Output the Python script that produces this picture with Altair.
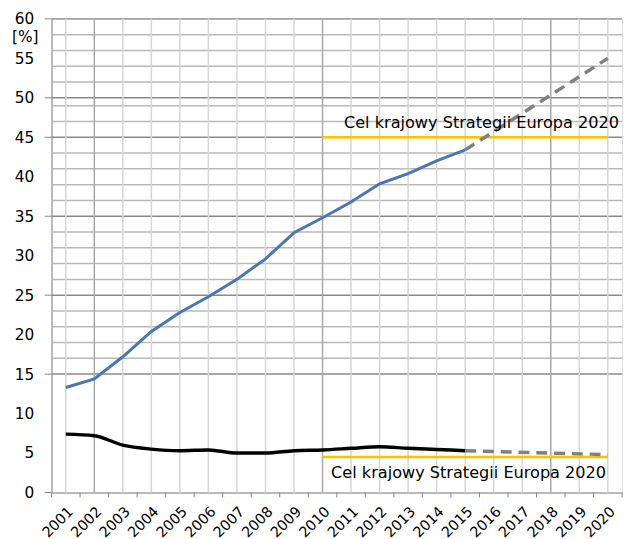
import altair as alt
import pandas as pd

# ---- data ----
years = list(range(2001, 2016))
blue_values = [13.3, 14.4, 17.2, 20.4, 22.8, 24.8, 27.0, 29.6, 32.9, 34.8, 36.8, 39.1, 40.4, 42.0, 43.4]
black_values = [7.4, 7.2, 6.0, 5.5, 5.3, 5.4, 5.0, 5.0, 5.3, 5.4, 5.6, 5.8, 5.6, 5.45, 5.3]
proj_years = [2015, 2020]
blue_proj = [43.4, 55.0]
black_proj = [5.3, 4.8]
target_years = [2010, 2020]
target_high = 45
target_low = 4.5
target_label = "Cel krajowy Strategii Europa 2020"
label_high_pos = (2010.75, 46.8)
label_low_pos = (2010.3, 2.45)
y_label_values = list(range(0, 61, 5))
y_tick_values = [0, 15, 25, 35, 45, 50, 60]
h_major = [60, 50, 45, 35, 25, 15]
h_minor = [58, 56, 54, 52, 49, 47, 43, 41, 39, 37, 33, 31, 29, 27, 23, 21, 19, 17]
v_major = [2002, 2010, 2018]
v_minor = [y for y in range(2001, 2021) if y not in v_major]
x_label_values = list(range(2001, 2021))
x_tick_values = [y + 0.5 for y in range(2000, 2021)]

W, H = 577, 479
FONT = "DejaVu Sans"

xs = alt.Scale(domain=[2000.5, 2020.5], nice=False, zero=False)
ys = alt.Scale(domain=[0, 60], nice=False)

df_blue = pd.DataFrame({"year": years, "v": blue_values})
df_black = pd.DataFrame({"year": years, "v": black_values})
df_bp = pd.DataFrame({"year": proj_years, "v": blue_proj})
df_kp = pd.DataFrame({"year": proj_years, "v": black_proj})
df_t = pd.DataFrame({"year": target_years * 2, "v": [target_high] * 2 + [target_low] * 2,
                     "g": ["h", "h", "l", "l"]})
df_lab = pd.DataFrame({"year": [label_high_pos[0], label_low_pos[0]],
                       "v": [label_high_pos[1], label_low_pos[1]],
                       "t": [target_label, target_label]})

xax = alt.Axis(values=x_label_values, format="d", labelAngle=-45, ticks=False, grid=False,
               domainColor="#868686", labelFontSize=14.5, labelFont=FONT, labelColor="#000",
               labelPadding=12, labelOverlap=False, labelAlign="right", labelBaseline="top",
               labelBound=False, title=None)
yax = alt.Axis(values=y_label_values, ticks=False, grid=False, domainColor="#868686",
               labelFontSize=15.5, labelFont=FONT, labelColor="#000", labelPadding=18,
               labelOverlap=False,
               title="[%]", titleAngle=0, titleX=-27, titleY=18, titleAlign="center",
               titleBaseline="middle", titleFontSize=15.5, titleFont=FONT,
               titleFontWeight="normal", titleColor="#000")


def X():
    return alt.X("year:Q", scale=xs, axis=xax)


def Y():
    return alt.Y("v:Q", scale=ys, axis=yax)


hmin = alt.Chart(pd.DataFrame({"v": h_minor})).mark_rule(color="#b9b9b9", strokeWidth=1.5).encode(
    y=Y(), x=alt.value(0), x2=alt.value(W))
hmaj = alt.Chart(pd.DataFrame({"v": h_major})).mark_rule(color="#8a8a8a", strokeWidth=1.5).encode(
    y=Y(), x=alt.value(0), x2=alt.value(W))
vmin = alt.Chart(pd.DataFrame({"year": v_minor})).mark_rule(color="#d6d6d6", strokeWidth=1.5).encode(
    x=X(), y=alt.value(0), y2=alt.value(H))
vmaj = alt.Chart(pd.DataFrame({"year": v_major})).mark_rule(color="#a8a8a8", strokeWidth=1.5).encode(
    x=X(), y=alt.value(0), y2=alt.value(H))
xticks = alt.Chart(pd.DataFrame({"year": x_tick_values})).mark_rule(color="#868686").encode(
    x=X(), y=alt.value(H), y2=alt.value(H + 5))
yticks = alt.Chart(pd.DataFrame({"v": y_tick_values})).mark_rule(color="#868686").encode(
    y=Y(), x=alt.value(-7), x2=alt.value(0))

targets = alt.Chart(df_t).mark_line(color="#FFC000", strokeWidth=2.5).encode(
    x=X(), y=Y(), detail="g:N")
blue = alt.Chart(df_blue).mark_line(color="#4A76B4", strokeWidth=3).encode(x=X(), y=Y())
black = alt.Chart(df_black).mark_line(color="#000000", strokeWidth=3.5, interpolate="monotone").encode(
    x=X(), y=Y())
bproj = alt.Chart(df_bp).mark_line(color="#808080", strokeWidth=3.5, strokeDash=[11, 7]).encode(
    x=X(), y=Y())
kproj = alt.Chart(df_kp).mark_line(color="#808080", strokeWidth=3.5, strokeDash=[11, 7]).encode(
    x=X(), y=Y())
labels = alt.Chart(df_lab).mark_text(align="left", baseline="middle", fontSize=16.3, font=FONT,
                                     color="#000").encode(x=X(), y=Y(), text="t:N")

chart = alt.layer(hmin, hmaj, vmin, vmaj, xticks, yticks, targets, blue, bproj, black, kproj, labels).properties(
    width=W, height=H,
    autosize=alt.AutoSizeParams(type="none"),
    padding={"left": 44, "top": 8, "right": 6, "bottom": 44},
).configure_view(stroke=None).configure(background="white")

chart.save("out.html", embed_options={"renderer": "svg", "actions": False})
